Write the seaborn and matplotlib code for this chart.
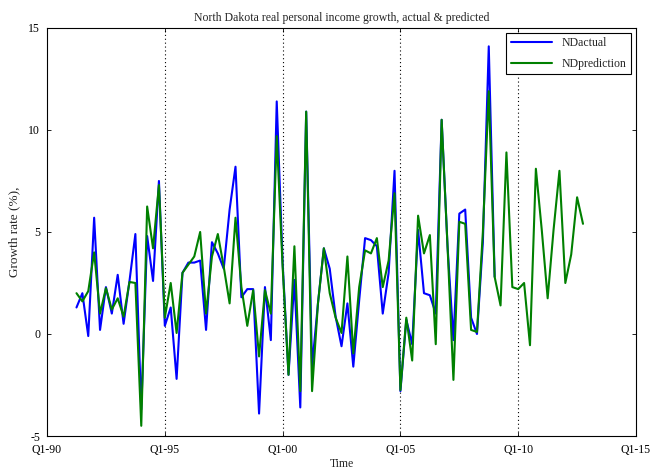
import matplotlib

matplotlib.use("Agg")
import matplotlib.pyplot as plt
import numpy as np
import pandas as pd
import seaborn as sns

# quarterly growth rates (%), starting Q2-1991
START_YEAR = 1991.25
nd_actual = [
    1.3, 2.0, -0.1,
    5.7, 0.2, 2.3, 1.0,
    2.9, 0.5, 2.6, 4.9,
    -3.7, 4.8, 2.6, 7.5,
    0.4, 1.3, -2.2, 3.0,
    3.5, 3.5, 3.6, 0.2,
    4.5, 3.95, 3.2, 6.1,
    8.2, 1.8, 2.2, 2.2,
    -3.9, 2.3, -0.3, 11.4,
    3.5, -2.0, 2.65, -3.6,
    10.9, -1.6, 1.5, 4.2,
    3.2, 0.85, -0.6, 1.5,
    -1.6, 1.65, 4.7, 4.6,
    4.3, 1.0, 3.0, 8.0,
    -2.8, 0.7, -0.5, 5.1,
    2.0, 1.9, 1.0, 10.5,
    4.3, -0.3, 5.9, 6.1,
    0.8, 0.0, 4.5, 14.1,
    2.8,
]
nd_prediction = [
    2.0, 1.6, 2.1,
    4.0, 1.0, 2.25, 1.2,
    1.75, 0.85, 2.55, 2.5,
    -4.5, 6.25, 4.2, 7.3,
    0.8, 2.5, 0.05, 3.0,
    3.4, 3.8, 5.0, 1.0,
    3.8, 4.9, 3.3, 1.5,
    5.7, 2.3, 0.4, 2.15,
    -1.1, 2.15, 1.0, 9.7,
    3.3, -2.0, 4.3, -2.8,
    10.9, -2.8, 1.5, 4.2,
    2.0, 0.8, 0.05, 3.8,
    -0.95, 2.3, 4.1, 3.95,
    4.7, 2.3, 3.6, 6.9,
    -2.75, 0.8, -1.3, 5.8,
    3.95, 4.85, -0.5, 10.5,
    4.3, -2.25, 5.5, 5.4,
    0.2, 0.1, 5.0, 11.9,
    2.8, 1.4, 8.9, 2.3,
    2.2, 2.5, -0.55, 8.1,
    5.1, 1.75, 5.1, 8.0,
    2.5, 3.9, 6.7, 5.4,
]
tick_years = [1990, 1995, 2000, 2005, 2010, 2015]
tick_labels = ["Q1-90", "Q1-95", "Q1-00", "Q1-05", "Q1-10", "Q1-15"]
y_ticks = [-5, 0, 5, 10, 15]


def quarter_axis(values):
    return START_YEAR + 0.25 * np.arange(len(values))


actual = pd.DataFrame({"time": quarter_axis(nd_actual), "growth": nd_actual, "series": "NDactual"})
pred = pd.DataFrame({"time": quarter_axis(nd_prediction), "growth": nd_prediction, "series": "NDprediction"})
data = pd.concat([actual, pred], ignore_index=True)

sns.set_style("ticks")
plt.rcParams.update(
    {
        "font.family": ["Liberation Serif", "DejaVu Serif"],
        "font.size": 8.5,
        "axes.unicode_minus": False,
        "xtick.direction": "in",
        "ytick.direction": "in",
        "xtick.major.pad": 6,
        "ytick.major.pad": 5,
        "axes.linewidth": 0.8,
    }
)

fig = plt.figure(figsize=(6.55, 4.71), dpi=100)
ax = fig.add_axes([0.0718, 0.0743, 0.8992, 0.8663])

sns.lineplot(
    data=data,
    x="time",
    y="growth",
    hue="series",
    palette={"NDactual": "#0000ff", "NDprediction": "#008000"},
    linewidth=1.5,
    legend=True,
    ax=ax,
)

for yr in tick_years[1:-1]:
    ax.axvline(yr, color="black", linestyle=(0, (1, 2.5)), linewidth=0.8, zorder=0)

ax.set_xlim(tick_years[0], tick_years[-1])
ax.set_ylim(-5, 15)
ax.set_xticks(tick_years)
ax.set_xticklabels(tick_labels)
ax.set_yticks(y_ticks)
ax.tick_params(top=True, right=True, length=3, width=0.6, colors="black")
for side in ax.spines.values():
    side.set_color("black")

ax.set_title("North Dakota real personal income growth, actual & predicted", fontsize=8.5, pad=5)
ax.set_xlabel("Time", labelpad=1)
ax.set_ylabel("Growth rate (%),", fontsize=9.5, labelpad=6)

leg = ax.legend(
    loc="upper right",
    frameon=True,
    fancybox=False,
    edgecolor="black",
    framealpha=1,
    borderaxespad=0.4,
    handlelength=3.5,
    labelspacing=0.7,
)
leg.get_frame().set_linewidth(0.8)

fig.savefig("out.png", dpi=100)
